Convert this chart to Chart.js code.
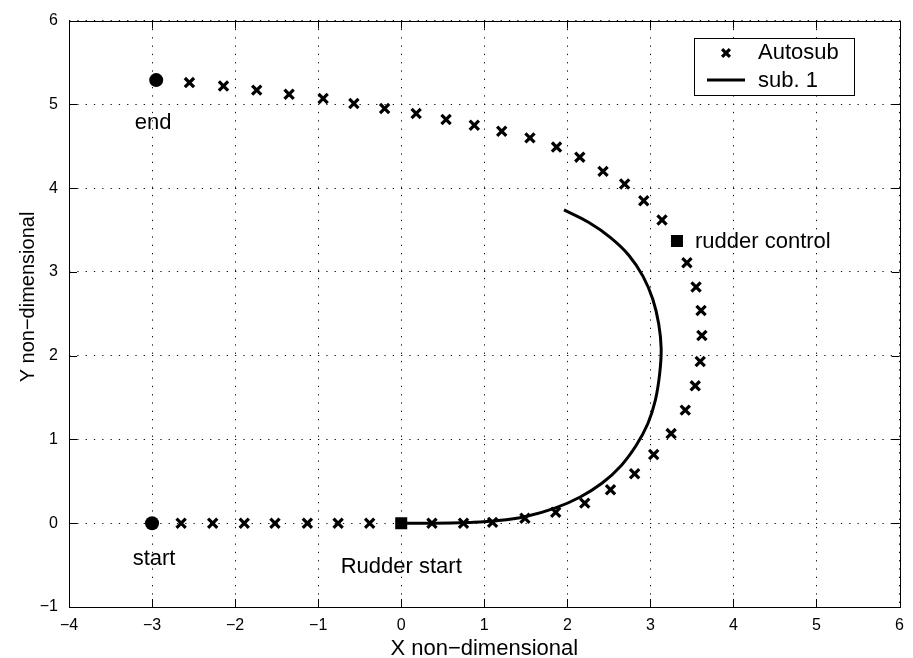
<!DOCTYPE html>
<html>
<head>
<meta charset="utf-8">
<script src="https://cdn.jsdelivr.net/npm/chart.js@4/dist/chart.umd.min.js"></script>
<style>
  body { margin: 0; background: #fff; }
  #wrap { width: 913px; height: 658px; }
</style>
</head>
<body>
<div id="wrap"><canvas id="track" width="913" height="658"></canvas></div>
<script>
// Autosub track (x markers)
const autosubX = [-2.65, -2.27, -1.89, -1.52, -1.13, -0.76, -0.38, 0.37, 0.75, 1.10,
  1.49, 1.86, 2.21, 2.52, 2.81, 3.04, 3.25, 3.42, 3.54, 3.60, 3.62, 3.61, 3.55, 3.44,
  3.14, 2.92, 2.69, 2.43, 2.15, 1.87, 1.55, 1.21, 0.88, 0.54, 0.18, -0.20, -0.57, -0.94,
  -1.35, -1.74, -2.14, -2.55];
const autosubY = [0, 0, 0, 0, 0, 0, 0, 0, 0, 0.01,
  0.06, 0.13, 0.24, 0.40, 0.59, 0.82, 1.07, 1.35, 1.64, 1.93, 2.24, 2.54, 2.82, 3.11,
  3.62, 3.85, 4.05, 4.20, 4.37, 4.49, 4.60, 4.68, 4.75, 4.82, 4.89, 4.95, 5.01, 5.07,
  5.12, 5.17, 5.22, 5.26];

// sub. 1 turning path (solid line)
const sub1X = [0, 0.40, 0.80, 1.15, 1.50, 1.85, 2.15, 2.42, 2.65, 2.83, 2.97, 3.06,
  3.11, 3.13, 3.10, 3.03, 2.91, 2.74, 2.52, 2.26, 1.96];
const sub1Y = [0, 0, 0.01, 0.03, 0.08, 0.18, 0.31, 0.48, 0.69, 0.93, 1.19, 1.47,
  1.77, 2.08, 2.38, 2.67, 2.95, 3.20, 3.41, 3.59, 3.74];

// event points
const startPt = [-3, 0];
const endPt = [-2.95, 5.29];
const rudderStartPt = [0, 0];
const rudderControlPt = [3.32, 3.37];

const xTicks = [-4, -3, -2, -1, 0, 1, 2, 3, 4, 5, 6];
const yTicks = [-1, 0, 1, 2, 3, 4, 5, 6];

const legendLabels = ['Autosub', 'sub. 1'];
const xTitle = 'X non\u2212dimensional';
const yTitle = 'Y non\u2212dimensional';

const FONT = "'Liberation Sans', Arial, Helvetica, sans-serif";
Chart.defaults.font.family = FONT;
Chart.defaults.color = '#000';

function pts(xs, ys) {
  return xs.map((x, i) => ({ x: x, y: ys[i] }));
}

function minus(v) {
  return String(v).replace('-', '\u2212');
}

// frame, inward ticks, legend box, axis titles and text notes
const matlabAxes = {
  id: 'matlabAxes',
  afterDraw(chart) {
    const ctx = chart.ctx;
    const a = chart.chartArea;
    const xs = chart.scales.x, ys = chart.scales.y;
    ctx.save();

    ctx.strokeStyle = '#000';
    ctx.lineWidth = 1;
    ctx.strokeRect(Math.round(a.left) + 0.5, Math.round(a.top) + 0.5,
      Math.round(a.right - a.left), Math.round(a.bottom - a.top));

    ctx.beginPath();
    xTicks.forEach(v => {
      const px = Math.round(xs.getPixelForValue(v)) + 0.5;
      ctx.moveTo(px, a.bottom); ctx.lineTo(px, a.bottom - 8);
      ctx.moveTo(px, a.top); ctx.lineTo(px, a.top + 8);
    });
    yTicks.forEach(v => {
      const py = Math.round(ys.getPixelForValue(v)) + 0.5;
      ctx.moveTo(a.left, py); ctx.lineTo(a.left + 8, py);
      ctx.moveTo(a.right, py); ctx.lineTo(a.right - 8, py);
    });
    ctx.stroke();

    // axis titles
    ctx.fillStyle = '#000';
    ctx.textAlign = 'center';
    ctx.textBaseline = 'middle';
    ctx.font = '22px ' + FONT;
    ctx.fillText(xTitle, (a.left + a.right) / 2, 649);
    ctx.save();
    ctx.font = '20px ' + FONT;
    ctx.translate(28, 297);
    ctx.rotate(-Math.PI / 2);
    ctx.fillText(yTitle, 0, 0);
    ctx.restore();

    // notes next to the event points
    ctx.font = '22px ' + FONT;
    const note = (text, p, dx, dy, align) => {
      ctx.textAlign = align;
      ctx.fillText(text, xs.getPixelForValue(p[0]) + dx, ys.getPixelForValue(p[1]) + dy);
    };
    note('end', endPt, -3, 43, 'center');
    note('start', startPt, 2, 36, 'center');
    note('Rudder start', rudderStartPt, 0, 44, 'center');
    note('rudder control', rudderControlPt, 18, 1, 'left');

    // legend box
    const lx = 694, ly = 38, lw = 160, lh = 57;
    ctx.fillStyle = '#fff';
    ctx.fillRect(lx, ly, lw, lh);
    ctx.strokeStyle = '#000';
    ctx.lineWidth = 1;
    ctx.strokeRect(lx + 0.5, ly + 0.5, lw, lh);
    const ds = chart.data.datasets;
    ctx.fillStyle = '#000';
    ctx.lineWidth = ds[0].pointBorderWidth;
    Chart.helpers.drawPoint(ctx, {
      pointStyle: ds[0].pointStyle, radius: 5.5, borderWidth: ds[0].pointBorderWidth
    }, 726, 53);
    ctx.beginPath();
    ctx.moveTo(707, 80); ctx.lineTo(745, 80);
    ctx.lineWidth = ds[5].borderWidth;
    ctx.stroke();
    ctx.textAlign = 'left';
    ctx.fillText(legendLabels[0], 758, 53);
    ctx.fillText(legendLabels[1], 758, 81);

    ctx.restore();
  }
};

new Chart(document.getElementById('track'), {
  type: 'scatter',
  data: {
    datasets: [
      {
        label: legendLabels[0],
        data: pts(autosubX, autosubY),
        pointStyle: 'crossRot', pointRadius: 6.5, pointBorderWidth: 3.2,
        pointBorderColor: '#000', pointBackgroundColor: '#000', showLine: false
      },
      {
        data: [{ x: startPt[0], y: startPt[1] }, { x: endPt[0], y: endPt[1] }],
        pointStyle: 'circle', pointRadius: 7, pointBorderWidth: 0,
        pointBackgroundColor: '#000', showLine: false
      },
      {
        data: [{ x: rudderStartPt[0], y: rudderStartPt[1] }],
        pointStyle: 'rect', pointRadius: 8.5, pointBorderWidth: 0,
        pointBackgroundColor: '#000', showLine: false
      },
      {
        data: [{ x: rudderControlPt[0], y: rudderControlPt[1] }],
        pointStyle: 'rect', pointRadius: 8.5, pointBorderWidth: 0,
        pointBackgroundColor: '#000', showLine: false
      },
      { data: [], showLine: false },
      {
        label: legendLabels[1],
        data: pts(sub1X, sub1Y),
        showLine: true, tension: 0.4, pointRadius: 0,
        borderColor: '#000', borderWidth: 3, fill: false
      }
    ]
  },
  options: {
    responsive: false,
    animation: false,
    events: [],
    layout: { padding: { top: 17, right: 5, left: 0, bottom: 0 } },
    plugins: { legend: { display: false }, tooltip: { enabled: false } },
    scales: {
      x: {
        type: 'linear', min: -4, max: 6,
        afterFit: s => { s.height = 51; },
        afterBuildTicks: s => { s.ticks = xTicks.map(v => ({ value: v })); },
        ticks: { padding: 9, font: { size: 16 }, color: '#000', callback: v => minus(v) },
        grid: { color: '#111', lineWidth: 1, drawTicks: false },
        border: { display: false, dash: [1.3, 7] }
      },
      y: {
        type: 'linear', min: -1, max: 6,
        afterFit: s => { s.width = 69; },
        afterBuildTicks: s => { s.ticks = yTicks.map(v => ({ value: v })); },
        ticks: { padding: 11, font: { size: 16 }, color: '#000', callback: v => minus(v) },
        grid: { color: '#111', lineWidth: 1, drawTicks: false },
        border: { display: false, dash: [1.3, 7] }
      }
    }
  },
  plugins: [matlabAxes]
});
</script>
</body>
</html>
